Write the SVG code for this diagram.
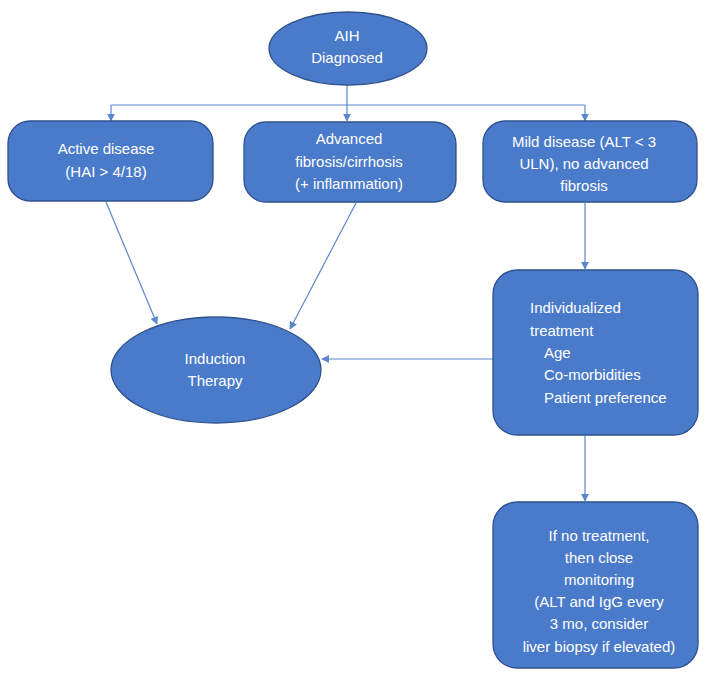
<svg xmlns="http://www.w3.org/2000/svg" width="705" height="675" viewBox="0 0 705 675">
<style>
.n{fill:#4A7BCB;stroke:#2F528F;stroke-width:1.3}
.t{font-family:"Liberation Sans",Arial,sans-serif;font-size:15px;fill:#fff;text-anchor:middle}
.l{text-anchor:start}
.c{fill:none;stroke:#5B87CC;stroke-width:1.2}
</style>
<defs>
<marker id="a" viewBox="0 0 10 10" refX="9" refY="5" markerWidth="8" markerHeight="8" orient="auto" markerUnits="userSpaceOnUse">
<path d="M0,0 L10,5 L0,10 z" fill="#5B87CC"/>
</marker>
</defs>
<rect width="705" height="675" fill="#fff"/>
<g id="connectors">
<path class="c" d="M347,85 V121" marker-end="url(#a)"/>
<path class="c" d="M111,105 H585"/>
<path class="c" d="M111,105 V121" marker-end="url(#a)"/>
<path class="c" d="M585,105 V121" marker-end="url(#a)"/>
<path class="c" d="M106,202 L157,324" marker-end="url(#a)"/>
<path class="c" d="M356,203 L290,329" marker-end="url(#a)"/>
<path class="c" d="M585,203 V269" marker-end="url(#a)"/>
<path class="c" d="M493,359 H322" marker-end="url(#a)"/>
<path class="c" d="M585,436 V501" marker-end="url(#a)"/>
</g>
<g id="aih">
<ellipse class="n" cx="348" cy="48.5" rx="79" ry="36.5"/>
<text class="t" x="347" y="41">AIH</text>
<text class="t" x="347" y="63">Diagnosed</text>
</g>
<g id="active">
<rect class="n" x="8" y="121" width="205" height="80" rx="22"/>
<text class="t" x="106" y="154">Active disease</text>
<text class="t" x="106" y="177">(HAI &gt; 4/18)</text>
</g>
<g id="advanced">
<rect class="n" x="244" y="122" width="212" height="80" rx="22"/>
<text class="t" x="349" y="144">Advanced</text>
<text class="t" x="349" y="167">fibrosis/cirrhosis</text>
<text class="t" x="349" y="189">(+ inflammation)</text>
</g>
<g id="mild">
<rect class="n" x="483" y="121" width="214" height="81" rx="22"/>
<text class="t" x="584" y="147">Mild disease (ALT &lt; 3</text>
<text class="t" x="584" y="169">ULN), no advanced</text>
<text class="t" x="584" y="191">fibrosis</text>
</g>
<g id="induction">
<ellipse class="n" cx="216" cy="370" rx="105" ry="53"/>
<text class="t" x="215" y="364">Induction</text>
<text class="t" x="215" y="386">Therapy</text>
</g>
<g id="individualized">
<rect class="n" x="493" y="270" width="205" height="165" rx="24"/>
<text class="t l" x="530" y="313">Individualized</text>
<text class="t l" x="530" y="336">treatment</text>
<text class="t l" x="544" y="358">Age</text>
<text class="t l" x="544" y="380">Co-morbidities</text>
<text class="t l" x="544" y="403">Patient preference</text>
</g>
<g id="monitoring">
<rect class="n" x="493" y="502" width="205" height="166" rx="24"/>
<text class="t" x="599" y="541">If no treatment,</text>
<text class="t" x="599" y="563">then close</text>
<text class="t" x="599" y="585">monitoring</text>
<text class="t" x="599" y="607">(ALT and IgG every</text>
<text class="t" x="599" y="629">3 mo, consider</text>
<text class="t" x="599" y="652">liver biopsy if elevated)</text>
</g>
</svg>
